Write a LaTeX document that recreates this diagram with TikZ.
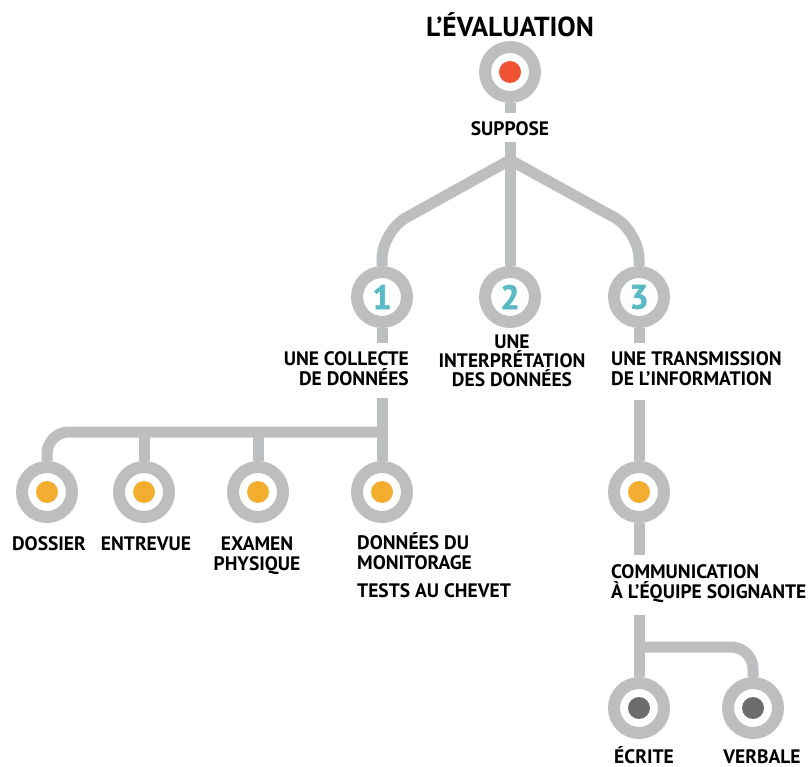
\documentclass[tikz,border=0pt]{standalone}
\usepackage{fontspec}
\setmainfont{PT Sans}
\newfontfamily\numfont{PT Sans}[BoldFeatures={FakeBold=1.6}]
\definecolor{ringgray}{HTML}{BCBEC0}
\definecolor{dotred}{HTML}{EF5332}
\definecolor{dotorange}{HTML}{F3AE2F}
\definecolor{dotdark}{HTML}{6B6E6C}
\definecolor{numteal}{HTML}{5AB9C5}
\begin{document}
\begin{tikzpicture}[x=1pt,y=-1pt,
	ring/.style={circle,draw=ringgray,line width=12pt,minimum size=50pt,inner sep=0pt},
	dot/.style={circle,fill=#1,minimum size=22pt,inner sep=0pt},
	num/.style={ring,text=numteal,font=\numfont\bfseries\fontsize{34}{34}\selectfont},
	link/.style={draw=ringgray,line width=11pt},
	lbl/.style={inner sep=0pt,font=\bfseries\fontsize{19.5}{19.5}\selectfont},
	title/.style={inner sep=0pt,font=\bfseries\fontsize{27.5}{27.5}\selectfont}]
			\useasboundingbox (0,0) rectangle (809,767);
			
			% top of the tree
			\node[title,anchor=base] (T) at (510,37) {L’ÉVALUATION};
			\node[ring] (R0) at (510,72) {};
			\node[dot=dotred] (D0) at (R0) {};
			\node[lbl,anchor=base] (S) at (510,136) {SUPPOSE};
			\coordinate (S0) at (510,113);
			\coordinate (S1) at (510,142);
			\coordinate (F) at (510,160);
			
			% the three steps (base = last line)
			\node[num] (R1) at (382,297) {1};
			\node[num] (R2) at (510,297) {2};
			\node[num] (R3) at (639,297) {3};
			\node[lbl,anchor=base east,align=right] (L1) at (409,385) {UNE COLLECTE\\DE DONNÉES};
			\node[lbl,anchor=base,align=center] (L2) at (512,387) {UNE\\INTERPRÉTATION\\DES DONNÉES};
			\node[lbl,anchor=base west,align=left] (L3) at (611,385) {UNE TRANSMISSION\\DE L’INFORMATION};
			
			% collecte
			\node[ring] (C1) at (47,492) {};
			\node[ring] (C2) at (144,492) {};
			\node[ring] (C3) at (258,492) {};
			\node[ring] (C4) at (382,492) {};
			\node[dot=dotorange] (E1) at (C1) {};
			\node[dot=dotorange] (E2) at (C2) {};
			\node[dot=dotorange] (E3) at (C3) {};
			\node[dot=dotorange] (E4) at (C4) {};
			\node[lbl,anchor=base] (K1) at (49,550) {DOSSIER};
			\node[lbl,anchor=base] (K2) at (146,550) {ENTREVUE};
			\node[lbl,anchor=base,align=center] (K3) at (257,570) {EXAMEN\\PHYSIQUE};
			\node[lbl,anchor=base west,align=left] (K4) at (357,569) {DONNÉES DU\\MONITORAGE};
			\node[lbl,anchor=base west] (K5) at (357,597) {TESTS AU CHEVET};
			\coordinate (J1) at (382,398);
			\coordinate (B1) at (382,432);
			
			% transmission
			\node[ring] (M1) at (639,492) {};
			\node[dot=dotorange] (N1) at (M1) {};
			\node[lbl,anchor=base west,align=left] (L4) at (611,598) {COMMUNICATION\\À L’ÉQUIPE SOIGNANTE};
			\node[ring] (W1) at (639,708) {};
			\node[ring] (W2) at (753,708) {};
			\node[dot=dotdark] (V1) at (W1) {};
			\node[dot=dotdark] (V2) at (W2) {};
			\node[lbl,anchor=base] (Q1) at (644,763) {ÉCRITE};
			\node[lbl,anchor=base] (Q2) at (762,763) {VERBALE};
			\coordinate (J3) at (639,400);
			\coordinate (J4) at (639,555);
			\coordinate (J5) at (639,615);
			\coordinate (B2) at (639,647);
	
			\draw[link] (R0) -- (S0);
			\draw[link] (S1) -- (R2);
			\draw[link,rounded corners=28pt] (F) -- ++(-128,71) -- (R1);
			\draw[link,rounded corners=28pt] (F) -- ++(129,71) -- (R3);
			\draw[link] (R1) -- (R1 |- 0,343);
			\draw[link] (R3) -- (R3 |- 0,343);
			\draw[link] (J1) -- (C4);
			\draw[link,rounded corners=22pt] (B1) -- (C1 |- B1) -- (C1);
			\draw[link] (C2 |- B1) -- (C2);
			\draw[link] (C3 |- B1) -- (C3);
			\draw[link] (J3) -- (M1);
			\draw[link] (M1) -- (J4);
			\draw[link] (J5) -- (W1);
			\draw[link,rounded corners=22pt] (B2) -- (W2 |- B2) -- (W2);
		\end{tikzpicture}
\end{document}
